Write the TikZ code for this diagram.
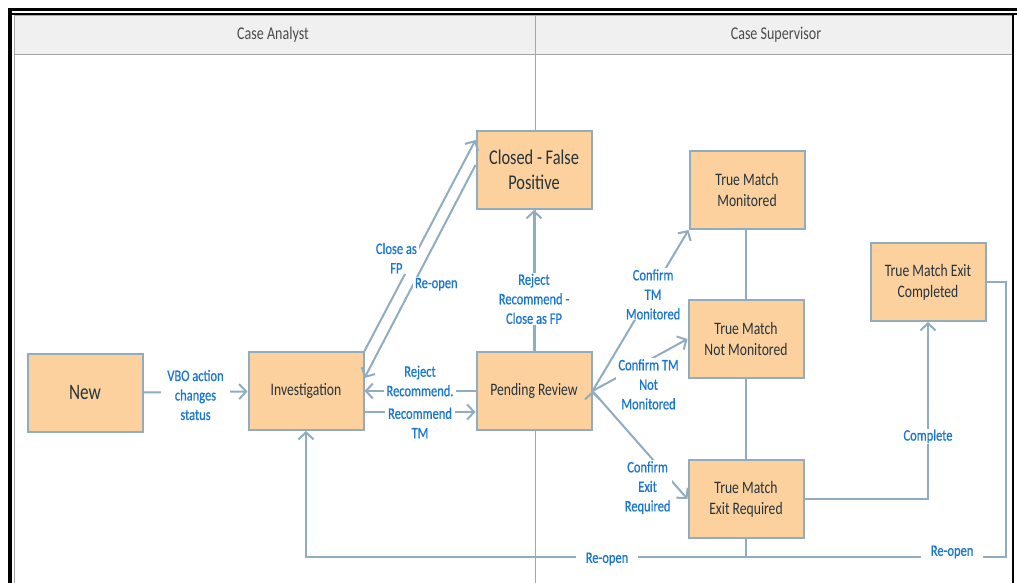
\documentclass[tikz,border=0pt]{standalone}
\usepackage{fontspec}
\setmainfont{Carlito}[FakeStretch=0.78]
\newfontfamily\lblfont{Carlito}[FakeStretch=0.78, FakeBold=0.6]
\usepackage{tikz}
\usetikzlibrary{arrows.meta}

\definecolor{boxfill}{RGB}{252,209,158}
\definecolor{boxline}{RGB}{143,172,192}
\definecolor{lblblue}{RGB}{25,118,210}
\definecolor{boxtext}{RGB}{38,52,60}
\definecolor{hdrfill}{RGB}{240,240,240}

\tikzset{
  state/.style={draw=boxline, line width=2pt, fill=boxfill, text=boxtext,
    minimum width=115pt, minimum height=78pt, align=center,
    font=\fontsize{17.5}{21}\selectfont},
  flow/.style={draw=boxline, line width=2pt, ->},
  link/.style={draw=boxline, line width=2pt},
  lbl/.style={fill=white, text=lblblue, align=center, inner ysep=1pt, inner xsep=6pt,
    font=\lblfont\fontsize{16}{19.5}\selectfont},
  lane/.style={font=\fontsize{18}{20}\selectfont, text=black!70},
  >={Straight Barb[length=7pt,width=15pt]}
}

\begin{document}
\begin{tikzpicture}[x=1pt, y=-1pt]
\useasboundingbox (0,0) rectangle (1017,583);
% swimlanes
\fill[hdrfill] (14,16) rectangle (1012,55);
\draw[gray!70, line width=1pt] (14,16) -- (1012,16) (14,55) -- (1012,55) (535,16) -- (535,583);
\draw[gray!70, line width=1pt] (14,16) -- (14,583);
\node[lane] (hca) at (273,35) {Case Analyst};
\node[lane] (hcs) at (776,35) {Case Supervisor};
\draw[line width=3pt] (8,10) -- (1017,10);
\draw[line width=1.2pt] (12,14) -- (1017,14);
\draw[line width=4pt] (10,10) -- (10,583);
\draw[line width=1.5pt] (1013,14) -- (1013,583);

% states
\node[state, font=\fontsize{22}{26}\selectfont] (new) at (85,393) {New};
\node[state] (inv) at (306,391) {Investigation};
\node[state, font=\fontsize{21}{25}\selectfont] (cfp) at (534,170) {Closed - False\\Positive};
\node[state] (pend) at (534,391) {Pending Review};
\node[state] (tmm) at (747,190) {True Match\\Monitored};
\node[state] (tmnm) at (746,339) {True Match\\Not Monitored};
\node[state] (tmer) at (746,499) {True Match\\Exit Required};
\node[state] (tmec) at (928,282) {True Match Exit\\Completed};
\coordinate (ro) at (1006,557);

% transitions
\path[flow]
(new) edge node[lbl, yshift=-3pt]{VBO action\\changes\\status} (inv)
(inv.north east) edge node[lbl, pos=0.44, xshift=-17pt, inner xsep=2pt]{Close as\\FP} ([yshift=30pt]cfp.west)
([yshift=5pt]cfp.west) edge node[lbl, pos=0.56, xshift=23pt, inner xsep=2pt]{Re-open} ([yshift=13pt]inv.east)
(pend.west) edge node[lbl, yshift=10pt, inner xsep=3pt]{Reject\\Recommend.} (inv.east)
([yshift=-21pt]inv.east) edge node[lbl, yshift=-11pt, inner xsep=3pt]{Recommend\\TM} ([yshift=-21pt]pend.west)
(pend) edge node[lbl, pos=0.37, inner xsep=2pt]{Reject\\Recommend -\\Close as FP} (cfp)
(pend.east) edge node[lbl, pos=0.6, xshift=3pt, inner xsep=2pt]{Confirm\\TM\\Monitored} (tmm.south west)
(pend.east) edge node[lbl, pos=0.59, yshift=-24pt, inner xsep=2pt]{Confirm TM\\Not\\Monitored} (tmnm.west)
(pend.east) edge node[lbl, pos=0.58, yshift=-34pt, inner xsep=2pt]{Confirm\\Exit\\Required} (tmer.west);
\draw[link] (tmm.south -| tmnm.north) -- (tmnm.north);
\draw[link] (tmnm) -- (tmer);
\draw[flow] (tmer.east) -| node[lbl, pos=0.677]{Complete} (tmec.south);
\draw[link] (tmer.south) -- (tmer.south |- ro);
\draw[flow] (tmec.east) -| (ro) -| node[lbl, pos=0.0385, yshift=5pt, inner xsep=10pt]{Re-open}
  node[lbl, pos=0.285, yshift=-2pt, inner xsep=10pt]{Re-open} (inv.south);
\end{tikzpicture}
\end{document}
